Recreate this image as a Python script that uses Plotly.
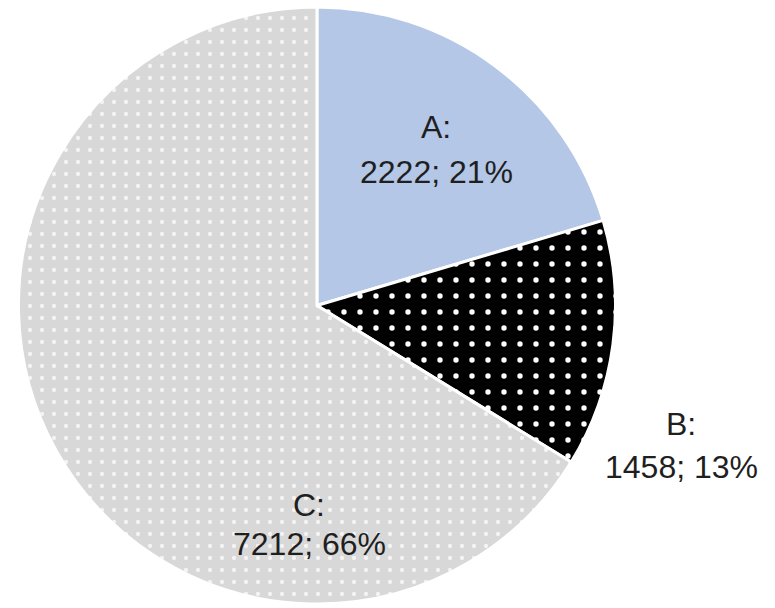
import plotly.graph_objects as go

# Slice data
categories = ["A", "B", "C"]
values = [2222, 1458, 7212]
percent_labels = ["21%", "13%", "66%"]

slice_colors = ["#B4C7E7", "#000000", "#D8D8D8"]
pattern_shapes = ["", ".", "."]

fig = go.Figure(
    go.Pie(
        labels=categories,
        values=values,
        sort=False,
        direction="clockwise",
        rotation=0,
        textinfo="none",
        hoverinfo="label+value+percent",
        showlegend=False,
        marker=dict(
            colors=slice_colors,
            line=dict(color="white", width=3),
            pattern=dict(
                shape=pattern_shapes,
                fillmode="replace",
                bgcolor=slice_colors,
                fgcolor=["#FFFFFF", "#FFFFFF", "#F4F4F4"],
                size=[11, 16, 12],
                solidity=[0.2, 0.09, 0.1],
            ),
        ),
        domain=dict(x=[0.0232, 0.7948], y=[0.0066, 0.9885]),
    )
)

# Data labels, two lines each: "Name:" over "value; percent"
# (x centre, name-line y, value-line y) in pixels from top-left
label_pos = [(436, 127, 172), (681, 424, 467), (309, 505, 544)]
W, H = 775, 608
font = dict(family="Liberation Sans, Arial, sans-serif", size=32, color="#1f1f1f")
for cat, val, pct, (lx, ny, vy) in zip(categories, values, percent_labels, label_pos):
    for txt, yy in ((f"{cat}:", ny), (f"{val}; {pct}", vy)):
        fig.add_annotation(
            x=lx / W, y=1 - yy / H, xref="paper", yref="paper",
            text=txt, showarrow=False, font=font,
            xanchor="center", yanchor="middle",
        )

fig.update_layout(
    width=W,
    height=H,
    margin=dict(l=0, r=0, t=0, b=0),
    paper_bgcolor="white",
    plot_bgcolor="white",
)

fig.write_html("out.html")
